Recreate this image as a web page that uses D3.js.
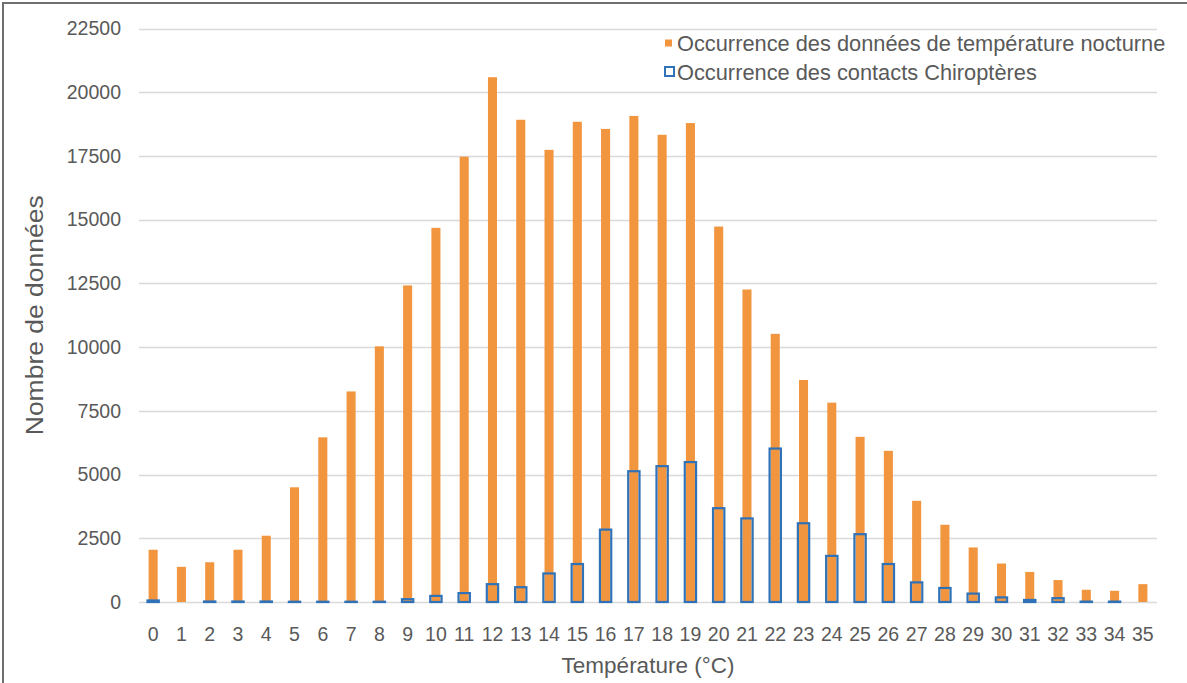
<!DOCTYPE html>
<html>
<head>
<meta charset="utf-8">
<script src="https://cdn.jsdelivr.net/npm/d3@7"></script>
<style>
  body { margin: 0; background: #fff; }
  svg { font-family: "Liberation Sans", Arial, sans-serif; }
</style>
</head>
<body>
<div id="chart"></div>
<script>
// temperature classes (°C)
const categories = d3.range(0, 36).map(String);
// Occurrence des données de température nocturne
const nightTemps = [2050, 1380, 1560, 2050, 2600, 4500, 6460, 8260, 10030, 12420,
  14680, 17470, 20590, 18920, 17740, 18840, 18560, 19070, 18330, 18790,
  14730, 12260, 10520, 8710, 7820, 6480, 5930, 3970, 3030, 2140,
  1510, 1180, 860, 480, 440, 700];
// Occurrence des contacts Chiroptères
const batContacts = [60, 0, 20, 20, 20, 10, 10, 10, 10, 110,
  240, 350, 700, 580, 1120, 1490, 2840, 5130, 5330, 5490,
  3680, 3280, 6020, 3090, 1810, 2660, 1490, 770, 550, 330,
  180, 80, 150, 15, 15, 0];
const yTicks = [0, 2500, 5000, 7500, 10000, 12500, 15000, 17500, 20000, 22500];

const width = 1187, height = 683;
const margin = { top: 28.5, right: 30, bottom: 81, left: 139 };

const svg = d3.select('#chart').append('svg')
  .attr('width', width)
  .attr('height', height);

// outer frame (only left and top edges are inside the picture)
svg.append('rect')
  .attr('x', 3).attr('y', 3)
  .attr('width', width + 20).attr('height', height + 20)
  .attr('fill', 'none')
  .attr('stroke', '#6f6f6f')
  .attr('stroke-width', 2);

const xScale = d3.scaleBand()
  .domain(categories)
  .range([margin.left, width - margin.right])
  .padding(0);

const yScale = d3.scaleLinear()
  .domain([0, 22500])
  .range([height - margin.bottom, margin.top]);

// gridlines
svg.append('g')
  .selectAll('line')
  .data(yTicks)
  .join('line')
  .attr('x1', margin.left)
  .attr('x2', width - margin.right)
  .attr('y1', d => Math.round(yScale(d)) + 0.5)
  .attr('y2', d => Math.round(yScale(d)) + 0.5)
  .attr('stroke', '#d9d9d9')
  .attr('stroke-width', 1.5);

// y axis labels
const yAxis = svg.append('g')
  .attr('transform', `translate(${margin.left},0)`)
  .call(d3.axisLeft(yScale).tickValues(yTicks).tickFormat(d3.format('d')).tickSize(0).tickPadding(18));
yAxis.select('.domain').remove();
yAxis.selectAll('text')
  .attr('fill', '#595959')
  .style('font-size', '19.5px');

// x axis labels
const xAxis = svg.append('g')
  .attr('transform', `translate(0,${height - margin.bottom})`)
  .call(d3.axisBottom(xScale).tickSize(0).tickPadding(25));
xAxis.select('.domain').remove();
xAxis.selectAll('text')
  .attr('fill', '#595959')
  .style('font-size', '19.5px');

const bw = xScale.bandwidth();
const orangeW = bw * 0.32;
const blueW = bw * 0.4;

// orange bars
svg.append('g')
  .selectAll('rect')
  .data(nightTemps)
  .join('rect')
  .attr('x', (d, i) => xScale(categories[i]) + bw / 2 - orangeW / 2)
  .attr('y', d => yScale(d))
  .attr('width', orangeW)
  .attr('height', d => yScale(0) - yScale(d))
  .attr('fill', '#f2953f');

// blue outlined bars
svg.append('g')
  .selectAll('rect')
  .data(batContacts)
  .join('rect')
  .attr('x', (d, i) => xScale(categories[i]) + bw / 2 - blueW / 2)
  .attr('y', d => yScale(d))
  .attr('width', blueW)
  .attr('height', d => yScale(0) - yScale(d))
  .attr('fill', 'none')
  .attr('stroke', '#2f72b8')
  .attr('stroke-width', 2.2);

// axis titles
svg.append('text')
  .attr('x', (margin.left + width - margin.right) / 2)
  .attr('y', 673)
  .attr('text-anchor', 'middle')
  .attr('fill', '#595959')
  .style('font-size', '22.5px')
  .text('Température (°C)');

svg.append('text')
  .attr('transform', `translate(43,${(margin.top + height - margin.bottom) / 2}) rotate(-90)`)
  .attr('text-anchor', 'middle')
  .attr('fill', '#595959')
  .attr('textLength', 240)
  .attr('lengthAdjust', 'spacingAndGlyphs')
  .style('font-size', '23px')
  .text('Nombre de données');

// legend
const legend = svg.append('g');
legend.append('rect')
  .attr('x', 665).attr('y', 39.5)
  .attr('width', 7).attr('height', 7)
  .attr('fill', '#f2953f');
legend.append('text')
  .attr('x', 677).attr('y', 51)
  .attr('fill', '#595959')
  .style('font-size', '21.8px')
  .text('Occurrence des données de température nocturne');
legend.append('rect')
  .attr('x', 665).attr('y', 67)
  .attr('width', 9).attr('height', 9)
  .attr('fill', 'none')
  .attr('stroke', '#2f72b8')
  .attr('stroke-width', 2);
legend.append('text')
  .attr('x', 677).attr('y', 80)
  .attr('fill', '#595959')
  .style('font-size', '21.8px')
  .text('Occurrence des contacts Chiroptères');
</script>
</body>
</html>
